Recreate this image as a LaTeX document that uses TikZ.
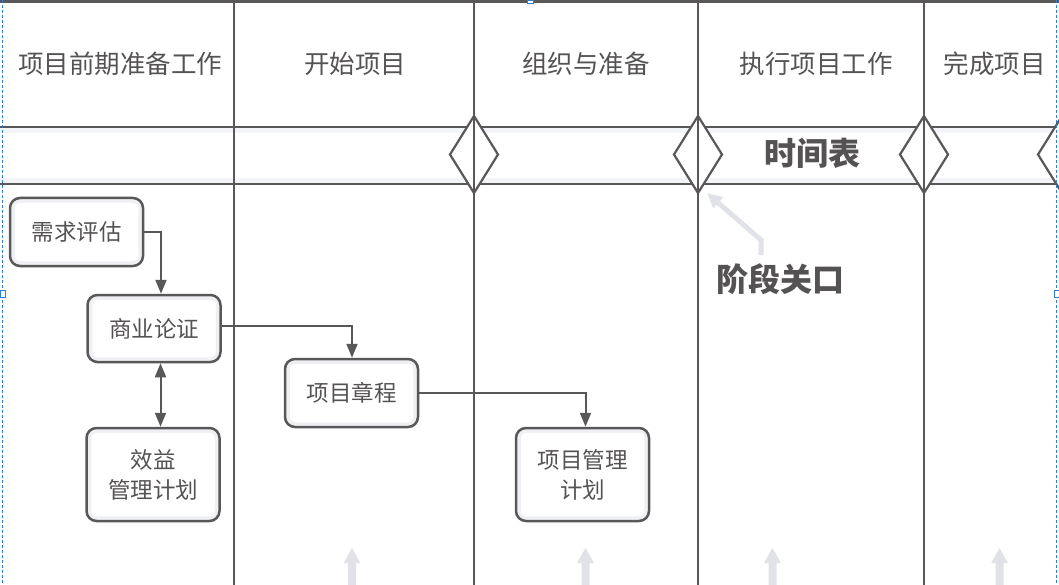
\documentclass[tikz,border=0pt]{standalone}
\usepackage{fontspec}
\newfontfamily\cjk{Noto Sans CJK SC}
\usetikzlibrary{arrows.meta}
\definecolor{ln}{HTML}{5A5758}
\definecolor{tx}{HTML}{555253}
\definecolor{shadec}{HTML}{EEF0F4}
\definecolor{lg}{HTML}{E1E2E7}
\definecolor{band}{HTML}{F3F4F7}
\definecolor{sel}{HTML}{2A7FE0}
\begin{document}
\begin{tikzpicture}[x=1pt,y=-1pt,
  grid/.style={draw=ln,line width=2.2pt},
  head/.style={font=\cjk\fontsize{25.5}{30}\selectfont,text=tx,inner sep=0pt},
  bigbold/.style={font=\cjk\bfseries\fontsize{32}{36}\selectfont,text=tx,inner sep=0pt},
  box/.style={draw=ln,fill=white,line width=2.5pt,rounded corners=10pt,
    minimum width=133pt,align=center,text=tx,inner sep=0pt,
    font=\cjk\fontsize{22.5}{30}\selectfont,
    path picture={\draw[shadec,line width=3.5pt,rounded corners=7pt]
      ([xshift=3pt,yshift=-3pt]path picture bounding box.north west) rectangle
      ([xshift=-3pt,yshift=3pt]path picture bounding box.south east);}},
  conn/.style={draw=ln,line width=2pt,-{Triangle[length=14pt,width=11pt]}},
  gate/.style={draw=ln,fill=white,line width=2.2pt,line join=miter},
  ghost/.style={fill=lg,draw=none}]
\useasboundingbox (0,0) rectangle (1059,585);
\clip (0,0) rectangle (1059,585);

% band tint
\fill[band] (0,128) rectangle (1059,133);
\fill[band] (0,178) rectangle (1059,183);

% horizontal lines
\draw[grid,line width=2.7pt] (0,1.3) -- (1059,1.3);
\draw[grid] (0,127) -- (1059,127);
\draw[grid] (0,184) -- (1059,184);

% phase gates (diamonds)
\foreach \gx in {474,698,924,1062}{
  \draw[gate] (\gx,116) -- (\gx+24,154.5) -- (\gx,193) -- (\gx-24,154.5) -- cycle;
}

% vertical lines
\foreach \vx in {234,474,698,924}{
  \draw[grid] (\vx,0) -- (\vx,585);
}

% headers
\node[head] (h1) at (120,64) {项目前期准备工作};
\node[head] (h2) at (355,64) {开始项目};
\node[head] (h3) at (586,64) {组织与准备};
\node[head] (h4) at (816,64) {执行项目工作};
\node[head] (h5) at (994.5,64) {完成项目};

\node[bigbold] (tl) at (812,153.5) {时间表};
\node[bigbold] (pg) at (780.5,279) {阶段关口};

% phase gate pointer
\coordinate (gtip) at (707,193);
\draw[lg,line width=5pt,-{Triangle[length=15pt,width=14pt]}]
  (761,255) -- (761,240) -- (gtip);

% bottom ghost arrows
\foreach \ax in {352,585.5,772.5,999.5}{
  \fill[ghost] (\ax,548) -- (\ax+8.5,563) -- (\ax+4,563) -- (\ax+4,590)
    -- (\ax-4,590) -- (\ax-4,563) -- (\ax-8.5,563) -- cycle;
}

% boxes
\node[box,minimum height=68pt] (a) at (76.5,232) {需求评估};
\node[box,minimum height=67pt] (b) at (154,328.5) {商业论证};
\node[box,minimum height=93pt] (c) at (153,474.5) {效益\\管理计划};
\node[box,minimum height=68pt] (d) at (351.5,393) {项目章程};
\node[box,minimum height=93pt] (e) at (582.5,474.5) {项目管理\\计划};

% connectors
\draw[conn] (a.east) -| ([xshift=7pt]b.north);
\draw[conn,{Triangle[length=14pt,width=11pt]}-{Triangle[length=14pt,width=11pt]}]
  ([xshift=6.5pt]b.south) -- ([xshift=7.5pt]c.north);
\draw[conn] ([yshift=2.5pt]b.east) -| ([xshift=0.5pt]d.north);
\draw[conn] (d.east) -| ([xshift=3pt]e.north);

% selection frame
\draw[sel,line width=0.8pt,dash pattern=on 3pt off 2pt] (2,0) -- (2,585);
\draw[sel,line width=0.8pt,dash pattern=on 3pt off 2pt] (1056.5,0) -- (1056.5,585);
\draw[sel,fill=white,line width=0.8pt] (0,290) rectangle (5,297);
\draw[sel,fill=white,line width=0.8pt] (1054,290) rectangle (1059,297);
\draw[sel,fill=white,line width=0.8pt] (527,0) rectangle (533,3);
\end{tikzpicture}
\end{document}
